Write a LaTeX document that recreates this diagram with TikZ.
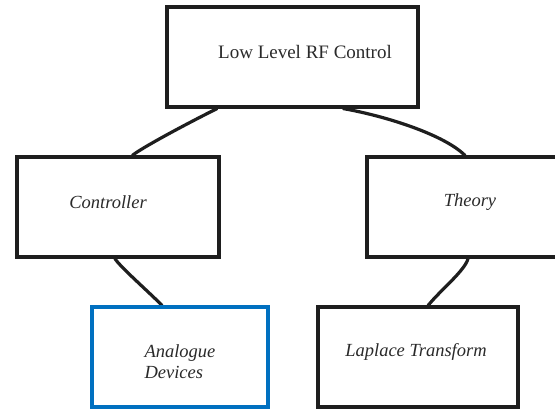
\documentclass[tikz,border=0pt]{standalone}
\usepackage{fontspec}
\setmainfont{Liberation Serif}
\usetikzlibrary{calc}
\definecolor{boxline}{HTML}{1E1E1E}
\definecolor{boxblue}{HTML}{0070C0}
\definecolor{txt}{HTML}{2A2A2A}
\begin{document}
\begin{tikzpicture}[x=1pt,y=-1pt,
  box/.style={draw=boxline,line width=3.2pt,rectangle,inner sep=0pt,
              minimum height=100pt},
  bluebox/.style={box,draw=boxblue},
  lbl/.style={text=txt,font=\fontsize{19}{21}\selectfont,inner sep=0pt,align=center},
  ilbl/.style={lbl,font=\fontsize{18.5}{21}\selectfont\itshape},
  link/.style={draw=boxline,line width=3.2pt,line cap=round}]
\useasboundingbox (0,0) rectangle (555,409);
\clip (0,0) rectangle (555,409);
\fill[white] (0,0) rectangle (555,409);

% boxes
\node[box,minimum width=251pt] (top) at (292.5,57) {};
\node[box,minimum width=202pt] (ctrl) at (118,207) {};
\node[box,minimum width=200pt] (theory) at (467,207) {};
\node[bluebox,minimum width=176pt] (analog) at (180,357) {};
\node[box,minimum width=200pt] (laplace) at (418,357) {};

% texts
\node[lbl] (ttop) at (305,52) {Low Level RF Control};
\node[ilbl] (tctrl) at (108,202) {Controller};
\node[ilbl] (ttheory) at (470,202) {Theory};
\node[ilbl,align=left] (tanalog) at (180,362) {Analogue\\Devices};
\node[ilbl] (tlaplace) at (416,352) {Laplace Transform};

% connectors
\coordinate (a1) at ($(top.south west)!0.203!(top.south east)$);
\coordinate (a2) at ($(ctrl.north west)!0.57!(ctrl.north east)$);
\draw[link] (a1) .. controls +(-30,15) and +(10,-8) .. (a2);

\coordinate (b1) at ($(top.south west)!0.70!(top.south east)$);
\coordinate (b2) at ($(theory.north west)!0.49!(theory.north east)$);
\draw[link] (b1) .. controls +(45,8) and +(-20,-20) .. (b2);

\coordinate (c1) at ($(ctrl.south west)!0.485!(ctrl.south east)$);
\coordinate (c2) at ($(analog.north west)!0.40!(analog.north east)$);
\draw[link] (c1) .. controls +(5,8) and +(-15,-15) .. (c2);

\coordinate (d1) at ($(theory.south west)!0.505!(theory.south east)$);
\coordinate (d2) at ($(laplace.north west)!0.55!(laplace.north east)$);
\draw[link] (d1) .. controls +(-3,12) and +(12,-15) .. (d2);

% box outlines drawn again over the connector ends
\node[box,minimum width=251pt] at (top) {};
\node[box,minimum width=202pt] at (ctrl) {};
\node[box,minimum width=200pt] at (theory) {};
\node[bluebox,minimum width=176pt] at (analog) {};
\node[box,minimum width=200pt] at (laplace) {};
\end{tikzpicture}
\end{document}
